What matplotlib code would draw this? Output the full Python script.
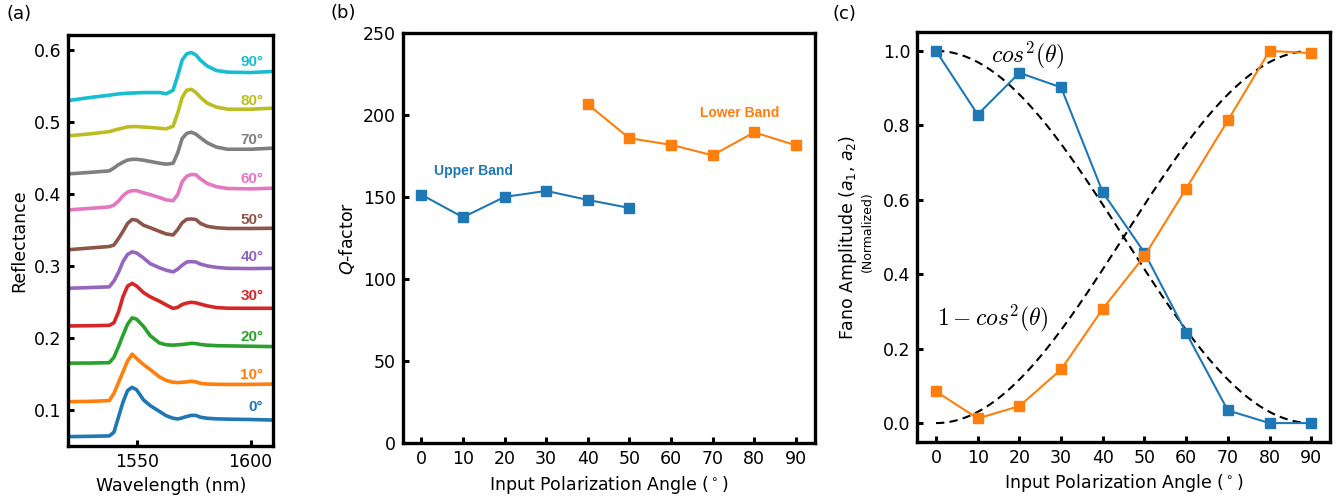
import numpy as np
import matplotlib
matplotlib.use("Agg")
import matplotlib.pyplot as plt

# ---------------- data ----------------
wavelength = [1520, 1530, 1538, 1540, 1542, 1544, 1546, 1548, 1550, 1553, 1556, 1560, 1563,
              1566, 1568, 1570, 1572, 1574, 1576, 1578, 1581, 1585, 1590, 1600, 1610]

refl_0 = [0.063, 0.0635, 0.064, 0.069, 0.090, 0.111, 0.127, 0.1315, 0.128, 0.114, 0.106, 0.098, 0.092,
          0.0885, 0.0875, 0.089, 0.091, 0.0925, 0.0925, 0.090, 0.0885, 0.0877, 0.0873, 0.0868, 0.086]
refl_10 = [0.1115, 0.112, 0.113, 0.123, 0.138, 0.153, 0.168, 0.1775, 0.1715, 0.163, 0.156, 0.146, 0.141,
           0.1385, 0.138, 0.1385, 0.139, 0.140, 0.139, 0.137, 0.136, 0.1357, 0.1355, 0.1355, 0.136]
refl_20 = [0.165, 0.1652, 0.1657, 0.173, 0.188, 0.204, 0.219, 0.228, 0.226, 0.216, 0.203, 0.193, 0.1905,
           0.190, 0.1905, 0.191, 0.1917, 0.1925, 0.1922, 0.191, 0.190, 0.1893, 0.189, 0.1885, 0.188]
refl_30 = [0.2167, 0.217, 0.2175, 0.221, 0.236, 0.2574, 0.272, 0.2758, 0.272, 0.263, 0.257, 0.251, 0.2458,
           0.241, 0.2425, 0.2465, 0.2485, 0.2495, 0.2488, 0.247, 0.2445, 0.2422, 0.2413, 0.2412, 0.2412]
refl_40 = [0.269, 0.270, 0.271, 0.279, 0.291, 0.306, 0.316, 0.3195, 0.318, 0.311, 0.303, 0.2975, 0.294,
           0.2917, 0.2955, 0.301, 0.3055, 0.306, 0.3055, 0.3025, 0.300, 0.298, 0.2967, 0.2963, 0.2968]
refl_50 = [0.3225, 0.325, 0.327, 0.329, 0.338, 0.348, 0.359, 0.3645, 0.3635, 0.3565, 0.353, 0.348, 0.3444,
           0.343, 0.3505, 0.360, 0.3648, 0.3652, 0.3645, 0.359, 0.355, 0.353, 0.352, 0.352, 0.3523]
refl_60 = [0.3778, 0.380, 0.382, 0.3845, 0.390, 0.3975, 0.4025, 0.4045, 0.4045, 0.4015, 0.399, 0.395, 0.3917,
           0.3905, 0.399, 0.417, 0.4245, 0.427, 0.4265, 0.421, 0.4145, 0.410, 0.4075, 0.407, 0.4079]
refl_70 = [0.4278, 0.430, 0.432, 0.436, 0.4405, 0.444, 0.447, 0.448, 0.448, 0.4468, 0.445, 0.4426, 0.4413,
           0.4425, 0.457, 0.477, 0.484, 0.4857, 0.483, 0.478, 0.471, 0.465, 0.462, 0.462, 0.4635]
refl_80 = [0.4806, 0.4835, 0.4865, 0.4883, 0.490, 0.4915, 0.493, 0.4935, 0.4935, 0.4928, 0.4922, 0.4912, 0.4903,
           0.494, 0.512, 0.534, 0.544, 0.5452, 0.541, 0.534, 0.526, 0.5205, 0.5176, 0.5176, 0.519]
refl_90 = [0.5296, 0.534, 0.537, 0.538, 0.5388, 0.5393, 0.5398, 0.540, 0.5403, 0.5407, 0.5407, 0.5407, 0.539,
           0.544, 0.564, 0.586, 0.5945, 0.5963, 0.593, 0.5855, 0.5775, 0.5713, 0.569, 0.5685, 0.570]

spectra_angles = ["0°", "10°", "20°", "30°", "40°", "50°", "60°", "70°", "80°", "90°"]
spectra = [refl_0, refl_10, refl_20, refl_30, refl_40, refl_50, refl_60, refl_70, refl_80, refl_90]
label_y = [0.1035, 0.149, 0.202, 0.258, 0.312, 0.364, 0.420, 0.475, 0.529, 0.583]

angles = [0, 10, 20, 30, 40, 50, 60, 70, 80, 90]
q_upper_angles = [0, 10, 20, 30, 40, 50]
q_upper = [151.6, 137.8, 150.2, 153.9, 148.4, 143.5]
q_lower_angles = [40, 50, 60, 70, 80, 90]
q_lower = [206.7, 186.0, 182.0, 175.6, 189.6, 181.7]

fano_a1 = [1.0, 0.829, 0.941, 0.902, 0.620, 0.458, 0.2425, 0.034, 0.0, 0.0]
fano_a2 = [0.085, 0.0125, 0.0456, 0.144, 0.307, 0.449, 0.630, 0.813, 1.0, 0.994]

colors = plt.rcParams['axes.prop_cycle'].by_key()['color']

# ---------------- figure ----------------
plt.rcParams['font.family'] = ['DejaVu Sans']
fig = plt.figure(figsize=(13.43, 4.96), dpi=100)

spine_lw = 2.4
tick_fs = 12.5
label_fs = 12.5

def style(ax):
    for s in ax.spines.values():
        s.set_linewidth(spine_lw)
    ax.tick_params(direction='in', length=4, width=2.2, labelsize=tick_fs,
                   top=False, right=False, pad=5)

# (a)
ax1 = fig.add_axes([0.0509, 0.1008, 0.1526, 0.8292])
for i, (r, lab) in enumerate(zip(spectra, spectra_angles)):
    c = colors[i % 10]
    ax1.plot(wavelength, r, color=c, lw=2.6, solid_joinstyle='round')
    ax1.text(1605.6, label_y[i], lab, color=c, ha='right', va='center',
             fontsize=11, fontweight='bold', family='Liberation Sans')
ax1.set_xlim(1520, 1610)
ax1.set_ylim(0.05, 0.621)
ax1.set_xticks([1550, 1600])
ax1.set_yticks([0.1, 0.2, 0.3, 0.4, 0.5, 0.6])
ax1.set_xlabel("Wavelength (nm)", fontsize=label_fs)
ax1.set_ylabel("Reflectance", fontsize=label_fs)
style(ax1)

# (b)
ax2 = fig.add_axes([0.2998, 0.1063, 0.3070, 0.8266])
ax2.plot(q_upper_angles, q_upper, color=colors[0], marker='s', ms=6.5, lw=1.5)
ax2.plot(q_lower_angles, q_lower, color=colors[1], marker='s', ms=6.5, lw=1.5)
ax2.text(3.0, 166.3, "Upper Band", color=colors[0], fontsize=10, fontweight='bold',
         family='Liberation Sans', ha='left', va='center')
ax2.text(66.9, 201.4, "Lower Band", color=colors[1], fontsize=10, fontweight='bold',
         family='Liberation Sans', ha='left', va='center')
ax2.set_xlim(-4.5, 94.6)
ax2.set_ylim(0, 250)
ax2.set_xticks(angles)
ax2.set_yticks([0, 50, 100, 150, 200, 250])
ax2.set_xlabel(r"Input Polarization Angle ($^\circ$)", fontsize=label_fs)
ax2.set_ylabel(r"$Q$-factor", fontsize=label_fs)
style(ax2)

# (c)
ax3 = fig.add_axes([0.6830, 0.1095, 0.3073, 0.8254])
theta = np.linspace(0, 90, 181)
ax3.plot(theta, np.cos(np.radians(theta)) ** 2, 'k--', lw=1.5, dashes=(4, 2.5))
ax3.plot(theta, 1 - np.cos(np.radians(theta)) ** 2, 'k--', lw=1.5, dashes=(4, 2.5))
ax3.plot(angles, fano_a1, color=colors[0], marker='s', ms=6.5, lw=1.5)
ax3.plot(angles, fano_a2, color=colors[1], marker='s', ms=6.5, lw=1.5)
ax3.text(13.3, 0.987, r"$cos^2(\theta)$", fontsize=17, math_fontfamily='cm',
         ha='left', va='center')
ax3.text(0.2, 0.282, r"$1 - cos^2(\theta)$", fontsize=17, math_fontfamily='cm',
         ha='left', va='center')
ax3.set_xlim(-4.5, 94.5)
ax3.set_ylim(-0.05, 1.05)
ax3.set_xticks(angles)
ax3.set_yticks([0.0, 0.2, 0.4, 0.6, 0.8, 1.0])
ax3.set_xlabel(r"Input Polarization Angle ($^\circ$)", fontsize=label_fs)
style(ax3)
fig.text(848 / 1343, 1 - 237 / 496, r"Fano Amplitude ($a_1$, $a_2$)", rotation=90,
         ha='center', va='center', fontsize=label_fs)
fig.text(867 / 1343, 1 - 232 / 496, "(Normalized)", rotation=90,
         ha='center', va='center', fontsize=9)

# panel labels
fig.text(7 / 1343, 1 - 14 / 496, "(a)", fontsize=13, ha='left', va='center')
fig.text(330 / 1343, 1 - 13 / 496, "(b)", fontsize=13, ha='left', va='center')
fig.text(832 / 1343, 1 - 14 / 496, "(c)", fontsize=13, ha='left', va='center')

fig.savefig("out.png", dpi=100)
